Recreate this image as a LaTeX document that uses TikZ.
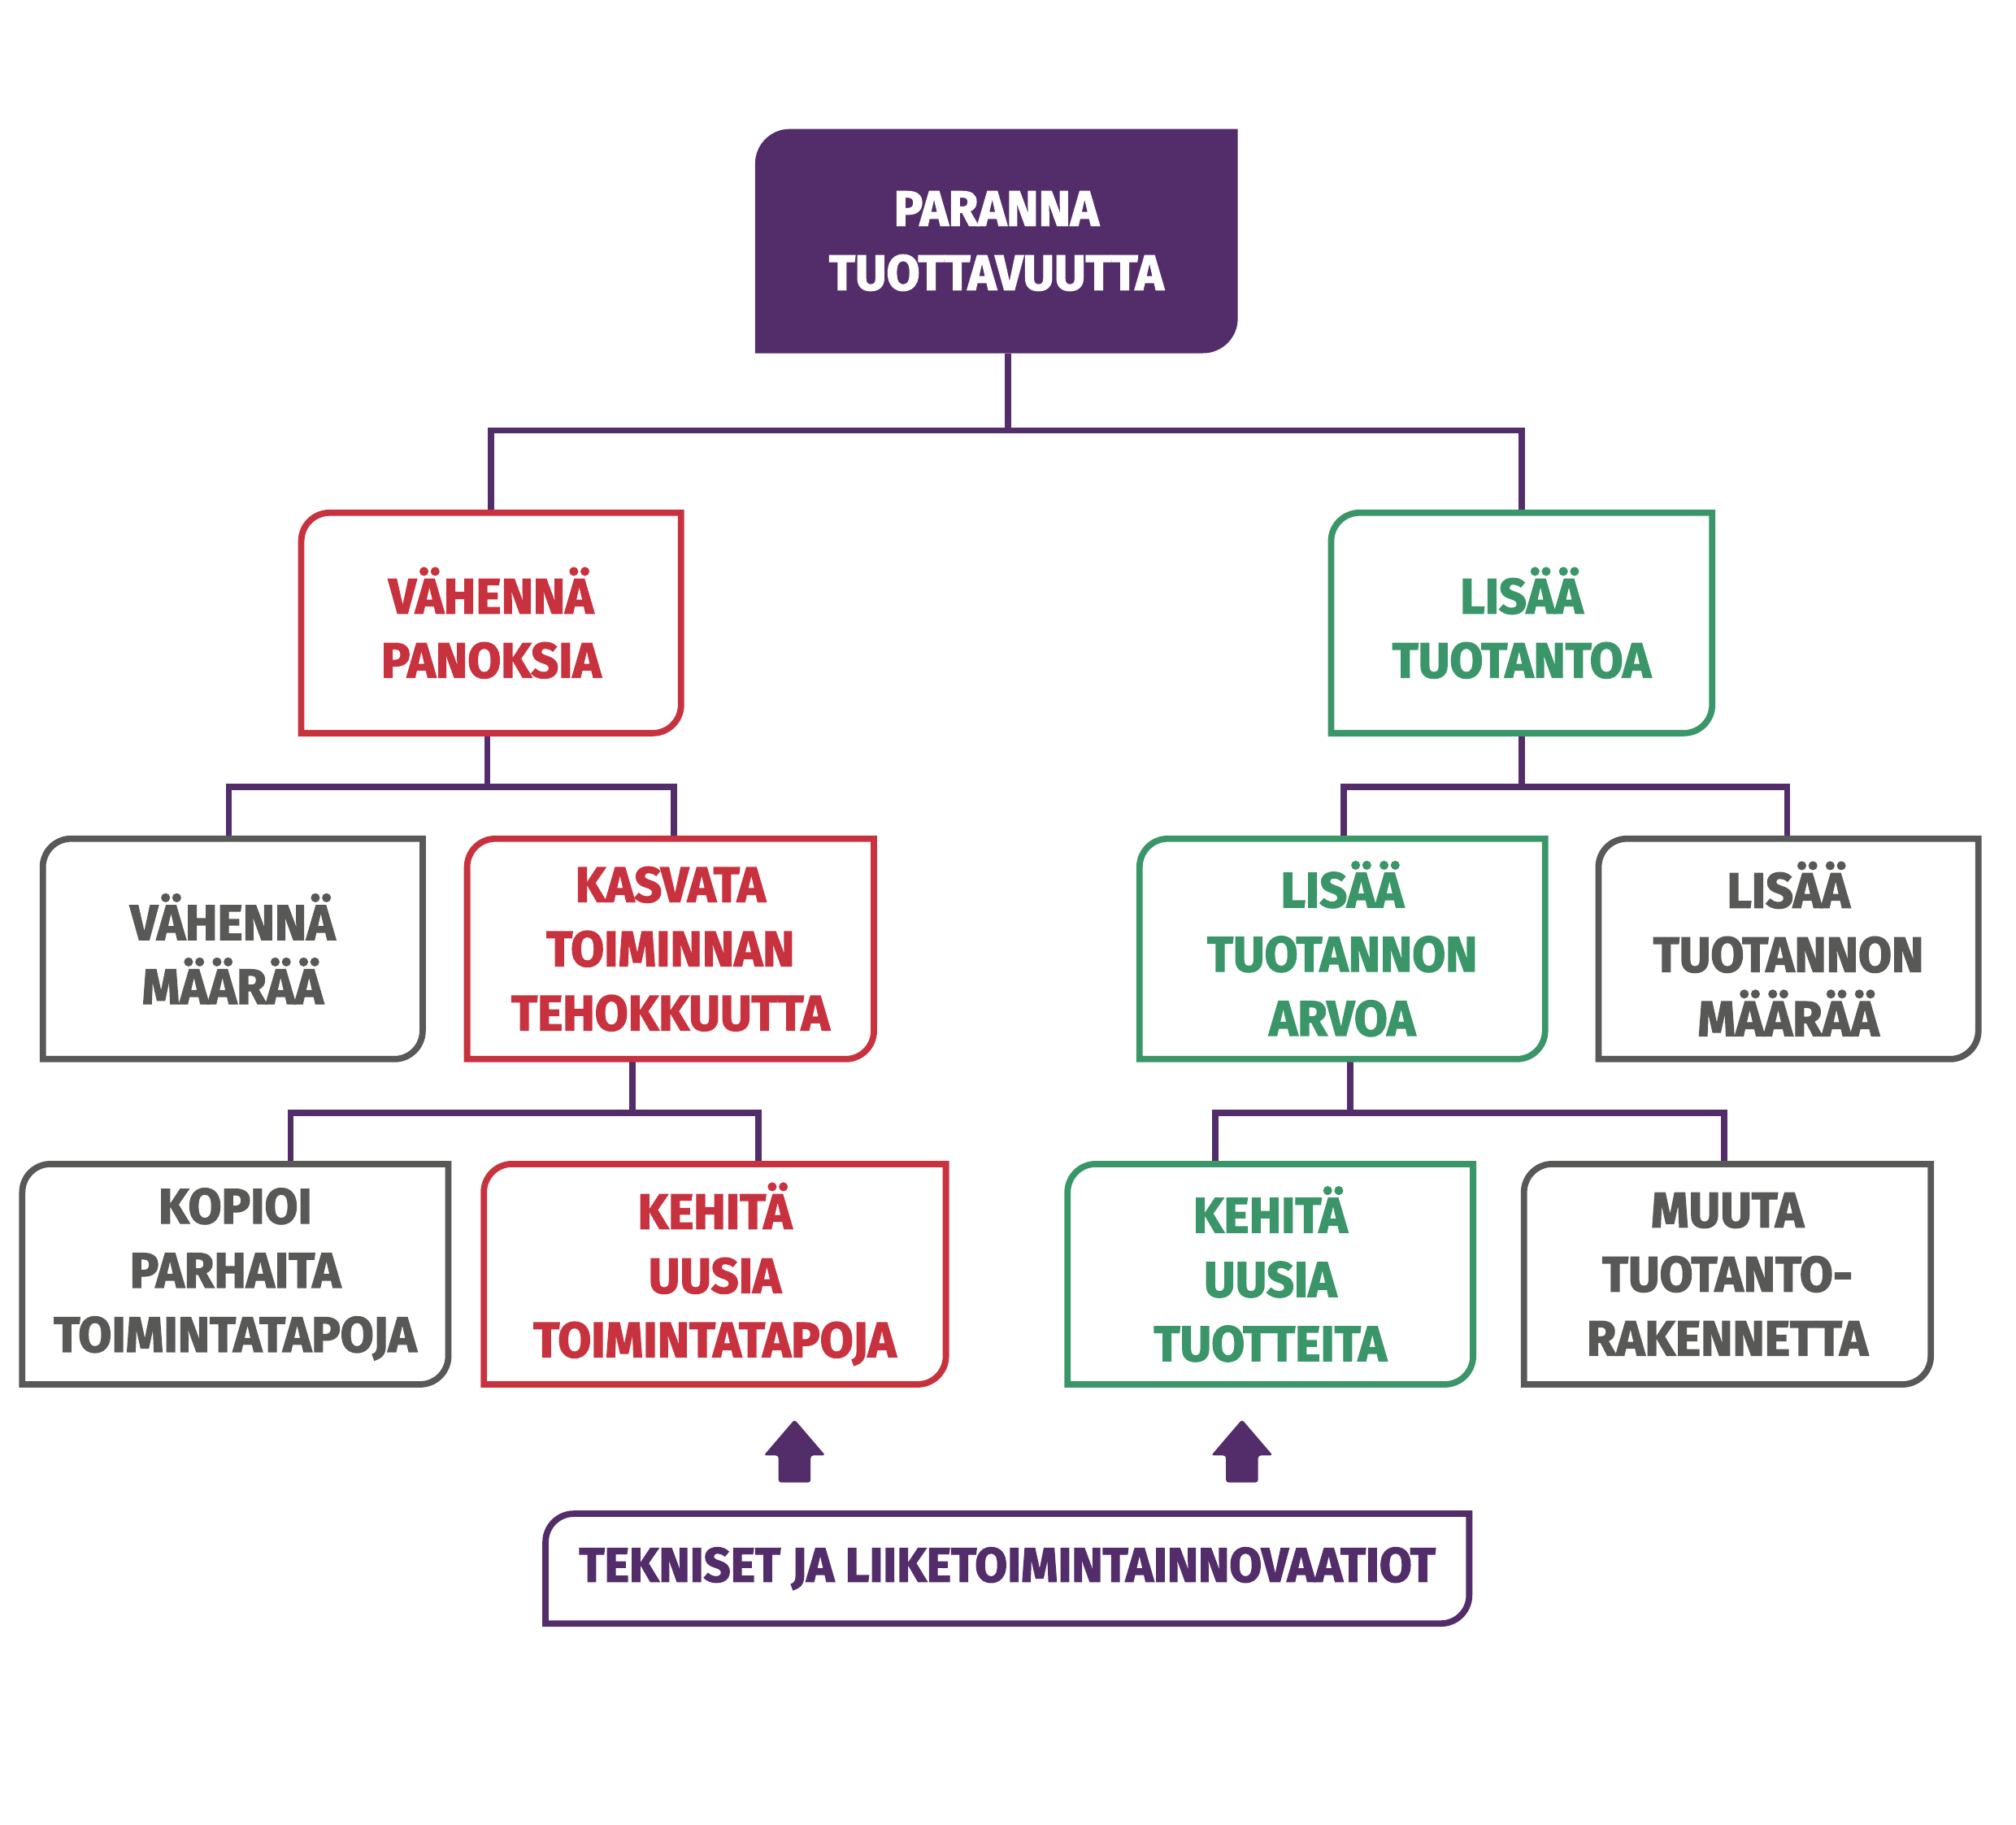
\documentclass[tikz,border=0pt]{standalone}
\usepackage{fontspec}
\setmainfont{Fira Sans}[FakeStretch=0.97,BoldFeatures={FakeBold=2.2}]
\usetikzlibrary{backgrounds}
\definecolor{tuotpurple}{HTML}{532D6A}
\definecolor{tuotred}{HTML}{C8323F}
\definecolor{tuotgreen}{HTML}{3A9669}
\definecolor{tuotgrey}{HTML}{585857}
\newcommand{\boxfont}{\bfseries\fontsize{11}{14.2}\selectfont}
\newcommand{\leafframe}[3][0.22cm]{%
  \draw[line width=1.4pt,#3] (#2.south west) -- ([yshift=-#1]#2.north west)
    arc[start angle=180,end angle=90,radius=#1] -- (#2.north east)
    -- ([yshift=#1]#2.south east) arc[start angle=0,end angle=-90,radius=#1] -- cycle;}

\begin{document}
\begin{tikzpicture}[link/.style={draw=tuotpurple,line width=1.4pt},
  box/.style={align=center,inner sep=0pt,minimum height=1.7cm,font=\boxfont}]
\useasboundingbox (0,0) rectangle (15.68,-14.19);
\node[box,minimum width=3.74cm,minimum height=1.73cm,text=white] (top) at (7.75,-1.875) {PARANNA\\TUOTTAVUUTTA};
\node[box,minimum width=2.94cm,text=tuotred] (vp) at (3.82,-4.845) {VÄHENNÄ\\PANOKSIA};
\node[box,minimum width=2.95cm,text=tuotgreen] (lt) at (11.835,-4.845) {LISÄÄ\\TUOTANTOA};
\node[box,minimum width=2.94cm,text=tuotgrey] (vm) at (1.81,-7.38) {VÄHENNÄ\\MÄÄRÄÄ};
\node[box,minimum width=3.15cm,text=tuotred] (kt) at (5.215,-7.38) {KASVATA\\TOIMINNAN\\TEHOKKUUTTA};
\node[box,minimum width=3.14cm,text=tuotgreen] (ta) at (10.44,-7.38) {LISÄÄ\\TUOTANNON\\ARVOA};
\node[box,minimum width=2.94cm,text=tuotgrey] (tm) at (13.91,-7.38) {LISÄÄ\\TUOTANNON\\MÄÄRÄÄ};
\node[box,minimum width=3.30cm,text=tuotgrey] (kp) at (1.83,-9.91) {KOPIOI\\PARHAITA\\TOIMINTATAPOJA};
\node[box,minimum width=3.58cm,text=tuotred] (ku) at (5.56,-9.91) {KEHITÄ\\UUSIA\\TOIMINTATAPOJA};
\node[box,minimum width=3.14cm,text=tuotgreen] (ut) at (9.88,-9.91) {KEHITÄ\\UUSIA\\TUOTTEITA};
\node[box,minimum width=3.15cm,text=tuotgrey] (mt) at (13.435,-9.91) {MUUTA\\TUOTANTO-\\RAKENNETTA};
\node[box,minimum width=7.17cm,minimum height=0.84cm,text=tuotpurple,font=\bfseries\fontsize{10.7}{13}\selectfont] (ti) at (7.835,-12.20) {TEKNISET JA LIIKETOIMINTAINNOVAATIOT};

\begin{pgfonlayer}{background}
\fill[tuotpurple] (top.south west) -- ([yshift=-0.27cm]top.north west)
  arc[start angle=180,end angle=90,radius=0.27cm] -- (top.north east)
  -- ([yshift=0.27cm]top.south east) arc[start angle=0,end angle=-90,radius=0.27cm] -- cycle;
\end{pgfonlayer}

\draw[link] ([xshift=0.09cm]top.south) -- ++(0,-0.6) coordinate (j1);
\draw[link] (vp.north) |- (j1) -| (lt.north);
\draw[link] ([xshift=-0.03cm]vp.south) -- ++(0,-0.42) coordinate (j2);
\draw[link] ([xshift=-0.03cm]vm.north) |- (j2) -| ([xshift=0.025cm]kt.north);
\draw[link] (lt.south) -- ++(0,-0.42) coordinate (j3);
\draw[link] ([xshift=0.01cm]ta.north) |- (j3) -| ([xshift=-0.01cm]tm.north);
\draw[link] ([xshift=-0.295cm]kt.south) -- ++(0,-0.42) coordinate (j4);
\draw[link] ([xshift=0.43cm]kp.north) |- (j4) -| ([xshift=0.34cm]ku.north);
\draw[link] ([xshift=0.06cm]ta.south) -- ++(0,-0.42) coordinate (j5);
\draw[link] ([xshift=-0.43cm]ut.north) |- (j5) -| ([xshift=-0.025cm]mt.north);

\leafframe{vp}{tuotred}
\leafframe{lt}{tuotgreen}
\leafframe{vm}{tuotgrey}
\leafframe{kt}{tuotred}
\leafframe{ta}{tuotgreen}
\leafframe{tm}{tuotgrey}
\leafframe{kp}{tuotgrey}
\leafframe{ku}{tuotred}
\leafframe{ut}{tuotgreen}
\leafframe{mt}{tuotgrey}
\leafframe{ti}{tuotpurple}

\foreach \ax in {6.18,9.66}
  \fill[tuotpurple,rounded corners=0.6pt] (\ax-0.125,-11.53) -- (\ax-0.125,-11.32) -- (\ax-0.24,-11.32)
    -- (\ax,-11.04) -- (\ax+0.24,-11.32) -- (\ax+0.125,-11.32) -- (\ax+0.125,-11.53) -- cycle;
\end{tikzpicture}
\end{document}
